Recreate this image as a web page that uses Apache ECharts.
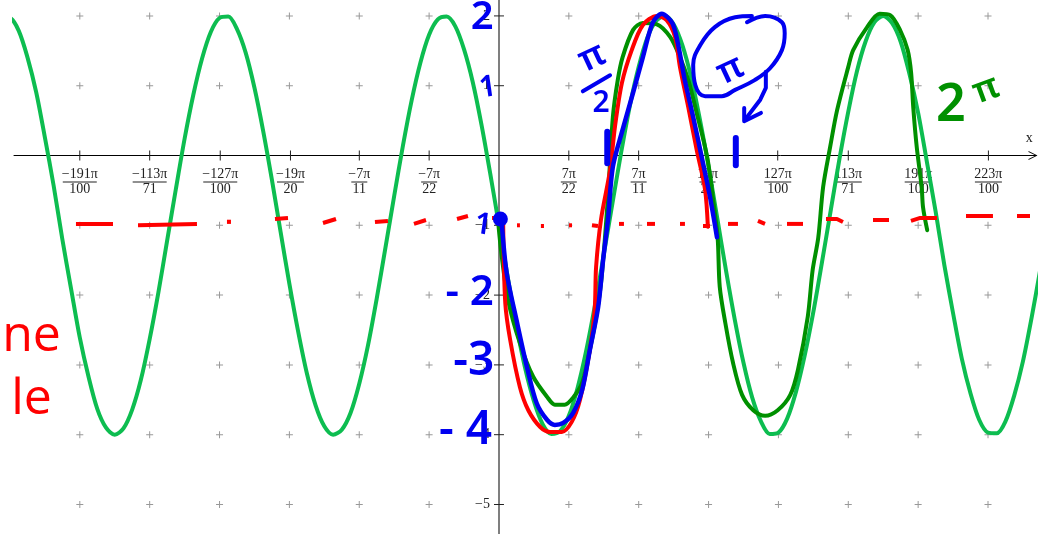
<!DOCTYPE html>
<html><head><meta charset="utf-8">
<style>html,body{margin:0;padding:0;background:#fff}#c{width:1038px;height:534px}</style>
<script src="https://cdn.jsdelivr.net/npm/echarts@6/dist/echarts.min.js"></script>
</head><body><div id="c"></div>
<script>
const tickNum=[-191,-113,-127,-19,-7,-7,7,7,19,127,113,191,223];
const tickDen=[100,71,100,20,11,22,22,11,20,100,71,100,100];
const yTicks=[2,1,-1,-2,-3,-4,-5];
const gridXs=[-6,-5,-4,-3,-2,-1,1,2,3,4,5,6,7];
const gridYs=[2,1,-1,-2,-3,-4,-5];
const curveX=[-7.125,-7,-6.875,-6.75,-6.625,-6.5,-6.375,-6.25,-6.125,-6,-5.875,-5.75,-5.625,-5.5,-5.375,-5.25,-5.125,-5,-4.875,-4.75,-4.625,-4.5,-4.375,-4.25,-4.125,-4,-3.875,-3.75,-3.625,-3.5,-3.375,-3.25,-3.125,-3,-2.875,-2.75,-2.625,-2.5,-2.375,-2.25,-2.125,-2,-1.875,-1.75,-1.625,-1.5,-1.375,-1.25,-1.125,-1,-0.875,-0.75,-0.625,-0.5,-0.375,-0.25,-0.125,0,0.125,0.25,0.375,0.5,0.625,0.75,0.875,1,1.125,1.25,1.375,1.5,1.625,1.75,1.875,2,2.125,2.25,2.375,2.5,2.625,2.75,2.875,3,3.125,3.25,3.375,3.5,3.625,3.75,3.875,4,4.125,4.25,4.375,4.5,4.625,4.75,4.875,5,5.125,5.25,5.375,5.5,5.625,5.75,5.875,6,6.125,6.25,6.375,6.5,6.625,6.75,6.875,7,7.125,7.25,7.375,7.5,7.625,7.75];
const curveY=[1.98,1.97,1.79,1.41,0.91,0.26,-0.43,-1.2,-1.91,-2.61,-3.17,-3.63,-3.9,-4,-3.91,-3.64,-3.21,-2.63,-1.96,-1.22,-0.48,0.24,0.87,1.39,1.77,1.97,1.99,1.81,1.47,0.97,0.35,-0.35,-1.1,-1.84,-2.52,-3.12,-3.58,-3.88,-4,-3.93,-3.69,-3.27,-2.72,-2.05,-1.32,-0.58,0.14,0.79,1.33,1.73,1.95,1.99,1.85,1.52,1.05,0.44,-0.26,-1,-1.74,-2.44,-3.05,-3.52,-3.85,-3.99,-3.95,-3.73,-3.33,-2.79,-2.14,-1.42,-0.68,0.05,0.72,1.27,1.69,1.93,2,1.88,1.58,1.12,0.52,-0.16,-0.9,-1.65,-2.35,-2.97,-3.47,-3.81,-3.99,-3.97,-3.77,-3.39,-2.87,-2.24,-1.52,-0.78,-0.04,0.63,1.21,1.64,1.91,2,1.9,1.63,1.17,0.61,-0.09,-0.8,-1.57,-2.26,-2.91,-3.41,-3.79,-3.97,-3.98,-3.81,-3.44,-2.95,-2.32,-1.62];
const darkGreenInk=[[-0.01,-0.97],[0.04,-1.45],[0.13,-2.07],[0.3,-2.69],[0.49,-3.17],[0.69,-3.46],[0.8,-3.57],[0.94,-3.57],[1.06,-3.47],[1.19,-3.26],[1.3,-2.79],[1.4,-2.26],[1.47,-1.74],[1.56,-0.59],[1.63,0.55],[1.7,1.08],[1.77,1.41],[1.92,1.8],[2.06,1.9],[2.26,1.88],[2.45,1.7],[2.59,1.41],[2.71,1.08],[2.83,0.61],[2.98,-0.02],[3.06,-0.59],[3.13,-1.18],[3.16,-1.88],[3.24,-2.4],[3.35,-2.97],[3.48,-3.43],[3.64,-3.65],[3.81,-3.73],[3.99,-3.65],[4.17,-3.43],[4.28,-3.07],[4.42,-2.31],[4.49,-1.64],[4.57,-1.18],[4.64,-0.45],[4.74,0.12],[4.84,0.65],[5,1.27],[5.07,1.51],[5.27,1.84],[5.45,2.03],[5.6,2.01],[5.74,1.8],[5.85,1.51],[5.9,1.18],[5.93,0.69],[5.98,0.12],[6.05,-0.45],[6.07,-0.74],[6.13,-1.07]];
const redInk=[[0.06,-0.97],[0.09,-2.11],[0.16,-2.64],[0.3,-3.32],[0.42,-3.65],[0.59,-3.89],[0.73,-3.96],[0.9,-3.96],[1.04,-3.82],[1.16,-3.5],[1.3,-2.79],[1.37,-2.21],[1.39,-1.6],[1.46,-0.92],[1.59,-0.21],[1.66,0.41],[1.76,1.04],[1.9,1.51],[2.06,1.87],[2.26,2],[2.4,1.94],[2.52,1.7],[2.59,1.27],[2.71,0.69],[2.83,0.08],[2.95,-0.49],[2.99,-1.02]];
const blueInk=[[0.04,-0.97],[0.11,-1.68],[0.26,-2.4],[0.4,-3.03],[0.54,-3.55],[0.69,-3.79],[0.8,-3.86],[0.92,-3.83],[1.06,-3.69],[1.19,-3.36],[1.3,-2.79],[1.42,-2.17],[1.49,-1.5],[1.56,-0.92],[1.63,-0.16],[1.77,0.37],[1.92,0.9],[2.06,1.41],[2.2,1.9],[2.33,2.03],[2.48,1.9],[2.56,1.61],[2.66,1.08],[2.78,0.55],[2.91,-0.06],[3.02,-0.59],[3.12,-1.17]];
const redDashes=[[[-6.055,-0.98],[-5.525,-0.98]],[[-5.167,-1],[-4.323,-0.98]],[[-3.865,-0.92],[-3.865,-0.98]],[[-3.206,-0.91],[-3.02,-0.895]],[[-2.519,-0.967],[-2.333,-0.91]],[[-1.775,-0.953],[-1.589,-0.938]],[[-1.217,-0.98],[-1.045,-0.924]],[[-0.601,-0.91],[-0.444,-0.867]],[[-0.1,-0.895],[-0.03,-0.895]],[[0.258,-1],[0.3,-1]],[[0.6,-1.01],[0.644,-1.01]],[[1.002,-1],[1.045,-1]],[[1.331,-1],[1.417,-1.01]],[[1.718,-0.98],[1.789,-0.98]],[[2.119,-0.98],[2.233,-0.98]],[[2.591,-0.98],[2.662,-0.98]],[[2.92,-1.01],[3.02,-1.01]],[[3.278,-0.98],[3.421,-0.98]],[[3.707,-0.938],[3.808,-0.98]],[[4.123,-0.98],[4.352,-0.98]],[[4.681,-0.91],[4.838,-0.91],[4.924,-0.953]],[[5.354,-0.924],[5.583,-0.924]],[[5.897,-0.938],[6.03,-0.895],[6.27,-0.895]],[[6.685,-0.867],[7.071,-0.867]],[[7.415,-0.867],[7.601,-0.867]]];
const redDot=[[-7.13,-3.33],[-7.1,-3.33]];
const blueStrokes=[
 [[3.55,1.91],[3.81,2],[4.05,1.91],[4.09,1.75],[4.05,1.51],[3.88,1.25],[3.66,1.08],[3.38,0.94],[3.19,0.85],[2.95,0.85],[2.81,1.01],[2.78,1.3],[2.88,1.58],[3.09,1.84],[3.38,1.98],[3.62,2]],
 [[3.82,1.2],[3.82,0.97],[3.74,0.8],[3.52,0.51]],
 [[3.51,0.68],[3.51,0.49],[3.75,0.61]],
 [[1.2,0.92],[1.59,1.15]],
 [[3.39,0.25],[3.39,-0.14]],
 [[1.55,0.34],[1.55,-0.11]]
];
const blobPoint=[[0.02,-0.91]];
const blueTexts=[['2',-0.24,1.98,40,0],['1',-0.16,0.97,30,8],['1',-0.23,-1.0,30,-8],['- 2',-0.42,-1.97,42,0],['-3',-0.36,-2.96,46,0],['- 4',-0.48,-3.94,46,0],['π',1.33,1.4,36,25],['2',1.46,0.75,30,0],['π',3.31,1.22,36,25]];
const greenTexts=[['2',6.47,0.71,52,0],['π',6.97,0.94,36,20]];
const redTexts=[['ne',-6.27,-2.6,50,0],['le',-6.4,-3.5,50,0]];
const axisTexts=[['x',7.59,0.24]];

const BLUE='#0000f0',RED='#ff0000',DARK='#009000',MAIN='#0dbd50',INK='#222';
const tickValues=tickNum.map((n,i)=>n*Math.PI/tickDen[i]);
const rich={n:{fontFamily:'Liberation Serif',fontSize:14,color:INK,lineHeight:14,align:'center'},d:{fontFamily:'Liberation Serif',fontSize:14,color:INK,lineHeight:14,align:'center'}};
const tickLabels=tickNum.map((n,i)=>{
 const top=(n<0?'−'+(-n):''+n)+'π',bot=''+tickDen[i];
 const w=top.length>=5?34:(top.length==4?27:16);
 rich['r'+w]={width:w,height:1,lineHeight:1,backgroundColor:INK,fontSize:1};
 return '{n|'+top+'}\n{r'+w+'| }\n{d|'+bot+'}';
});
const base={silent:true,animation:false};
const ink=(data,color,width,z,smooth,cap)=>({...base,type:'line',data,showSymbol:false,symbol:'none',smooth,z,lineStyle:{color,width,cap:cap||'round',join:'round'}});
const texts=(items,color,family,weight,align)=>({...base,type:'scatter',symbolSize:0,z:9,itemStyle:{opacity:1},
 data:items.map(t=>({value:[t[1],t[2]],label:{show:true,position:'inside',formatter:t[0],fontFamily:family,fontWeight:weight,fontSize:t[3],rotate:t[4],color,align:align||'center',verticalAlign:'middle'}}))});
const plusData=[];gridXs.forEach(x=>gridYs.forEach(y=>plusData.push([x,y])));
const series=[
 {...base,type:'scatter',data:plusData,symbol:'path://M3 0h1v3h3v1H4v3H3V4H0V3h3z',symbolSize:7,itemStyle:{color:'#999',opacity:1},z:1},
 {...base,type:'scatter',data:tickValues.map((v,i)=>({value:[v,0],label:{show:true,position:'bottom',distance:7,formatter:tickLabels[i],rich}})),symbol:'rect',symbolSize:[1,10],itemStyle:{color:INK,opacity:1},z:2},
 {...base,type:'scatter',data:yTicks.map(v=>({value:[0,v],label:{show:true,position:'left',distance:4,formatter:(''+v).replace('-','−'),fontFamily:'Liberation Serif',fontSize:14,color:INK}})),symbol:'rect',symbolSize:[10,1],itemStyle:{color:INK,opacity:1},z:2},
 ink(curveX.map((x,i)=>[x,curveY[i]]),MAIN,4,3,0.3),
 ink(darkGreenInk,DARK,4,4,0.3),
 ink(redInk,RED,4,5,0.3),
 ink(blueInk,BLUE,4.5,6,0.3),
 {...base,type:'scatter',data:blobPoint,symbolSize:15,itemStyle:{color:BLUE,opacity:1},z:7},
 ...redDashes.map(d=>ink(d,RED,4,5,false,'butt')),
 {...ink(redDot,RED,4,5,false,'butt'),clip:false},
 ...blueStrokes.map((d,i)=>ink(d,BLUE,i>3?6:4,7,i==0?0.4:false)),
 texts(blueTexts,BLUE,'Noto Sans',600),
 texts(greenTexts,DARK,'Noto Sans',600),
 texts(redTexts,RED,'Open Sans',500,'right'),
 {...base,type:'scatter',symbolSize:0,z:9,itemStyle:{opacity:1},data:axisTexts.map(t=>({value:[t[1],t[2]],label:{show:true,position:'inside',formatter:t[0],fontFamily:'Liberation Serif',fontSize:14,color:INK}}))}
];
const chart=echarts.init(document.getElementById('c'),null,{renderer:'canvas'});
chart.setOption({
 animation:false,backgroundColor:'#fff',
 grid:{left:14,right:2,top:0,bottom:0,outerBoundsMode:'none',containLabel:false},
 xAxis:{type:'value',min:-6.942,max:7.687,splitLine:{show:false},
  axisLine:{onZero:true,lineStyle:{color:'#000',width:1},symbol:['none','path://M0 10L5 0L10 10L9 10L5 2L1 10Z'],symbolSize:[11,9],symbolOffset:[0,-3]},
  axisTick:{show:false},axisLabel:{show:false}},
 yAxis:{type:'value',min:-5.423,max:2.228,splitLine:{show:false},
  axisLine:{onZero:true,lineStyle:{color:'#555',width:1.5}},
  axisTick:{show:false},axisLabel:{show:false}},
 series
});
</script></body></html>
